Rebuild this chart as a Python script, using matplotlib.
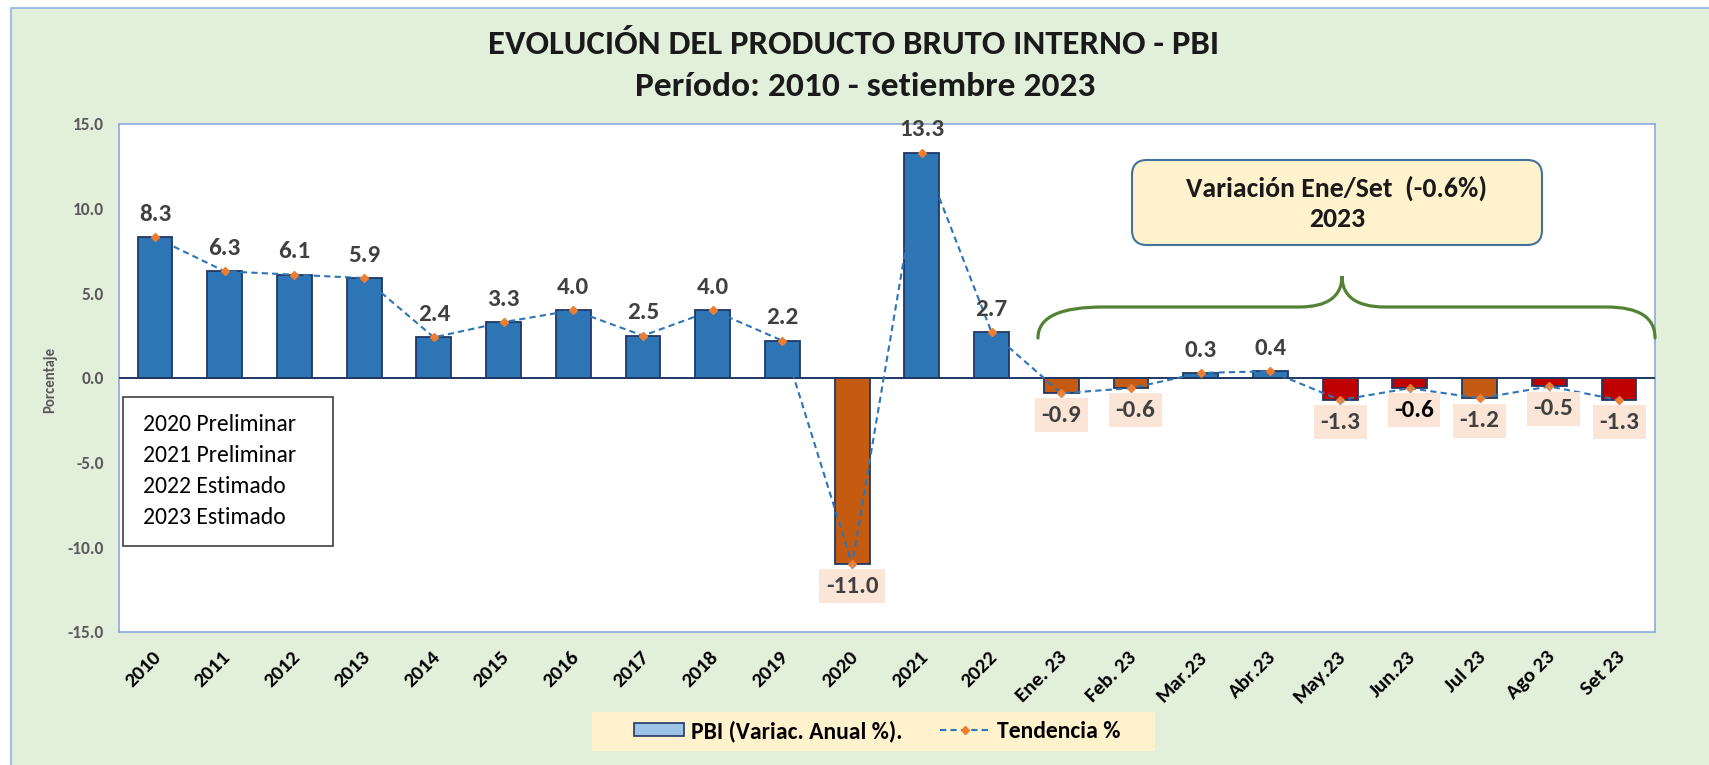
import numpy as np
import matplotlib
matplotlib.use('Agg')
import matplotlib.pyplot as plt
import matplotlib.font_manager as fm
from matplotlib.patches import Rectangle, FancyBboxPatch, PathPatch, Patch
from matplotlib.lines import Line2D
from matplotlib.path import Path
from matplotlib.transforms import Affine2D, ScaledTranslation

names = {f.name for f in fm.fontManager.ttflist}
FONT = 'Carlito' if 'Carlito' in names else 'Lato'
plt.rcParams['font.family'] = [FONT, 'DejaVu Sans']

# ---------------- data ----------------
categories = ['2010', '2011', '2012', '2013', '2014', '2015', '2016', '2017', '2018',
              '2019', '2020', '2021', '2022', 'Ene. 23', 'Feb. 23', 'Mar.23', 'Abr.23',
              'May.23', 'Jun.23', 'Jul 23', 'Ago 23', 'Set 23']
pbi_values = [8.3, 6.3, 6.1, 5.9, 2.4, 3.3, 4.0, 2.5, 4.0, 2.2, -11.0, 13.3, 2.7,
              -0.9, -0.6, 0.3, 0.4, -1.3, -0.6, -1.2, -0.5, -1.3]
trend_values = [8.3, 6.3, 6.1, 5.9, 2.4, 3.3, 4.0, 2.5, 4.0, 2.2, -11.0, 13.3, 2.7,
                -0.9, -0.6, 0.3, 0.4, -1.3, -0.6, -1.2, -0.5, -1.3]
bar_group = ['b', 'b', 'b', 'b', 'b', 'b', 'b', 'b', 'b', 'b', 'o', 'b', 'b',
             'o', 'o', 'b', 'b', 'r', 'r', 'o', 'r', 'r']
notes = ['2020 Preliminar', '2021 Preliminar', '2022 Estimado', '2023 Estimado']
title1 = 'EVOLUCIÓN DEL PRODUCTO BRUTO INTERNO - PBI'
title2 = 'Período: 2010 - setiembre 2023'
box_line1 = 'Variación Ene/Set  (-0.6%)'
box_line2 = '2023'
legend_labels = ['PBI (Variac. Anual %).', 'Tendencia %']

# ---------------- style ----------------
group_colors = {'b': '#2E75B6', 'o': '#C55A11', 'r': '#C00000'}
leader_idx = {10, 13, 17, 18, 20}
label_dx = {14: 3, 18: 3, 20: 3}
W, H = 1709, 765

fig = plt.figure(figsize=(W / 100, H / 100), dpi=100, facecolor='white')
PIX = Affine2D().scale(1 / W, -1 / H).translate(0, 1) + fig.transFigure

# chart-area background
fig.add_artist(Rectangle((11, 8), W + 20, H + 20, transform=PIX, fc='#E2EFDA',
                         ec='#8FB4E3', lw=1.2, zorder=-5))

ax = fig.add_axes([119 / W, 1 - 632 / H, (1655 - 119) / W, (632 - 124) / H])
ax.set_facecolor('white')
x = np.arange(len(categories))
colors = [group_colors[g] for g in bar_group]
ax.bar(x, pbi_values, width=0.5, color=colors, edgecolor='#1F3864', linewidth=1.3, zorder=2)
ax.axhline(0, color='#1F3864', lw=1.4, zorder=3)
ax.plot(x, trend_values, ls=(0, (3, 2)), color='#2E75B6', lw=1.5, marker='D', ms=4.5,
        mfc='#ED7D31', mec='#ED7D31', zorder=4)

ax.set_xlim(-0.516, len(categories) - 1 + 0.516)
ax.set_ylim(-15, 15)
for s in ax.spines.values():
    s.set_color('#8EA9DB')
    s.set_linewidth(1.2)

yt = np.arange(-15, 16, 5)
ax.set_yticks(yt)
ax.set_yticklabels([f'{v:.1f}' for v in yt])
ax.tick_params(axis='y', length=0, pad=11, labelsize=12.5, labelcolor='#595959')
for lbl in ax.get_yticklabels():
    lbl.set_fontweight('bold')

ax.set_xticks(x)
ax.set_xticklabels(categories, rotation=45, ha='right', va='center', rotation_mode='anchor')
ax.tick_params(axis='x', length=0, pad=16, labelsize=15, labelcolor='black')
off = ScaledTranslation(3 / 100, 0, fig.dpi_scale_trans)
for lbl in ax.get_xticklabels():
    lbl.set_fontweight('bold')
    lbl.set_transform(lbl.get_transform() + off)

# data labels
for i, v in enumerate(pbi_values):
    if v >= 0:
        ax.annotate(f'{v:.1f}', (i, v), xytext=(0, 16.5), textcoords='offset points',
                    ha='center', va='center', fontsize=18, fontweight='bold',
                    color='#404040', zorder=6)
    else:
        kw = dict(ha='center', va='center', fontsize=18, fontweight='bold',
                  color='#000000' if i == 18 else '#404040', zorder=6,
                  bbox=dict(boxstyle='square,pad=0.26', fc='#FBE5D6', ec='none'))
        if i in leader_idx:
            kw['arrowprops'] = dict(arrowstyle='-', color='#A6A6A6', lw=1,
                                    shrinkA=0, shrinkB=0)
        ax.annotate(f'{v:.1f}', (i, v), xytext=(label_dx.get(i, 0), -16),
                    textcoords='offset points', **kw)

# titles
fig.text(854, 45, title1, transform=PIX, ha='center', va='center', fontsize=25,
         fontweight='bold', color='#1A1A1A')
fig.text(865, 86, title2, transform=PIX, ha='center', va='center', fontsize=25.5,
         fontweight='bold', color='#1A1A1A')

# y label
fig.text(50, 380, 'Porcentaje', transform=PIX, rotation=90, ha='center', va='center',
         fontsize=10.5, fontweight='bold', color='#595959')

# note box
fig.add_artist(Rectangle((123, 397), 210, 149, transform=PIX, fc='white', ec='#404040',
                         lw=1.2, zorder=5))
for k, t in enumerate(notes):
    fig.text(143, 425 + k * 30.7, t, transform=PIX, ha='left', va='center', fontsize=17,
             color='black', zorder=6)

# annotation box
fig.add_artist(FancyBboxPatch((1132, 160), 410, 85, boxstyle='round,pad=0,rounding_size=15',
                              transform=PIX, fc='#FFF2CC', ec='#41719C', lw=1.5, zorder=5))
fig.text(1337, 188, box_line1, transform=PIX, ha='center', va='center', fontsize=20,
         fontweight='bold', color='#1A1A1A', zorder=6)
fig.text(1337, 219, box_line2, transform=PIX, ha='center', va='center', fontsize=20,
         fontweight='bold', color='#1A1A1A', zorder=6)

# brace
verts = [(1038, 338), (1038, 316), (1062, 307), (1104, 307),
         (1299, 307),
         (1328, 307), (1342, 296), (1342, 276),
         (1342, 296), (1356, 307), (1385, 307),
         (1606, 307),
         (1640, 307), (1655, 318), (1655, 338)]
codes = [Path.MOVETO, Path.CURVE4, Path.CURVE4, Path.CURVE4,
         Path.LINETO,
         Path.CURVE4, Path.CURVE4, Path.CURVE4,
         Path.CURVE4, Path.CURVE4, Path.CURVE4,
         Path.LINETO,
         Path.CURVE4, Path.CURVE4, Path.CURVE4]
fig.add_artist(PathPatch(Path(verts, codes), transform=PIX, fc='none', ec='#548235',
                         lw=2.3, zorder=5, capstyle='round'))

# legend
fig.add_artist(Rectangle((592, 712), 563, 39, transform=PIX, fc='#FFF2CC', ec='none', zorder=1))
handles = [Patch(fc='#9DC3E6', ec='#1F3864', lw=1.2),
           Line2D([], [], ls=(0, (3, 2)), color='#2E75B6', lw=1.5, marker='D', ms=4.5,
                  mfc='#ED7D31', mec='#ED7D31')]
fig.legend(handles=handles, labels=legend_labels, loc='center', bbox_to_anchor=(877, 731),
           bbox_transform=PIX, ncol=2, frameon=False, prop=dict(weight='bold', size=17),
           handlelength=2.1, handletextpad=0.3, columnspacing=1.6, handleheight=0.5)

fig.savefig('out.png', dpi=100, facecolor=fig.get_facecolor())
